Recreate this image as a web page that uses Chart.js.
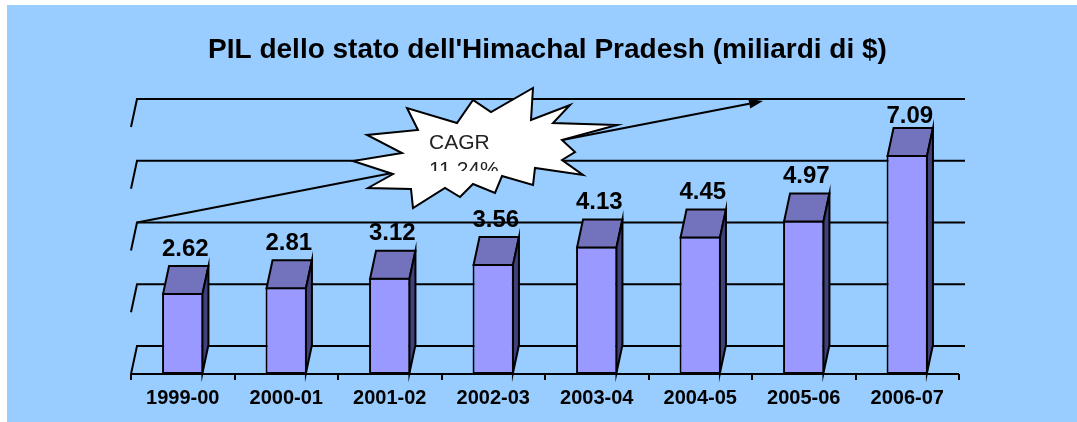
<!DOCTYPE html>
<html>
<head>
<meta charset="utf-8">
<script src="https://cdn.jsdelivr.net/npm/chart.js@4/dist/chart.umd.min.js"></script>
<style>
  html, body { margin: 0; padding: 0; background: #fff; }
  #wrap { width: 1077px; height: 422px; }
</style>
</head>
<body>
<div id="wrap"><canvas id="c" width="1077" height="422"></canvas></div>
<script>
// ---- data ----
const categories = ['1999-00', '2000-01', '2001-02', '2002-03', '2003-04', '2004-05', '2005-06', '2006-07'];
const gdpValues = [2.62, 2.81, 3.12, 3.56, 4.13, 4.45, 4.97, 7.09];
const valueLabels = ['2.62', '2.81', '3.12', '3.56', '4.13', '4.45', '4.97', '7.09'];
const gridValues = [0, 2, 4, 6, 8];
const titleText = "PIL dello stato dell'Himachal Pradesh (miliardi di $)";
const calloutLines = ['CAGR', '11.24%'];

// ---- styling / geometry (not data) ----
const FONT = '"Liberation Sans", Arial, Helvetica, sans-serif';
const DEPTH_X = 6, DEPTH_Y = -28;
const COL_BG = '#99CCFF', COL_FRONT = '#9999FF', COL_TOP = '#7373BD', COL_SIDE = '#40407A';
const ARROW_END = [763, 101];
const STAR = [
  [533,88],[531,120],[570,105],[553,123],[617,125],[562,140],[575,152],[562,160],
  [583,175],[535,168],[533,185],[502,176],[495,193],[473,184],[460,197],[445,188],
  [413,208],[411,189],[368,188],[393,174],[353,161],[402,153],[367,135],[418,130],
  [407,108],[457,123],[473,100],[491,112]
];

const deco = {
  id: 'deco',
  beforeDraw(chart) {
    const ctx = chart.ctx;
    ctx.save();
    ctx.fillStyle = '#ffffff';
    ctx.fillRect(0, 0, chart.width, chart.height);
    ctx.fillStyle = COL_BG;
    ctx.fillRect(7, 5, chart.width - 7, chart.height - 5);
    ctx.fillStyle = '#000';
    ctx.font = 'bold 28px ' + FONT;
    ctx.textAlign = 'center';
    ctx.textBaseline = 'alphabetic';
    ctx.fillText(titleText, 547.5, 58);
    ctx.restore();
  },
  beforeDatasetsDraw(chart) {
    const ctx = chart.ctx;
    const ys = chart.scales.y;
    const L = chart.chartArea.left, R = chart.chartArea.right;
    ctx.save();
    ctx.strokeStyle = '#000';
    ctx.lineWidth = 2;
    ctx.lineCap = 'butt';
    gridValues.forEach(v => {
      const yf = ys.getPixelForValue(v);
      const yb = yf + DEPTH_Y;
      ctx.beginPath();
      ctx.moveTo(L, yf);
      ctx.lineTo(L + DEPTH_X, yb);
      ctx.lineTo(R + DEPTH_X, yb);
      ctx.stroke();
    });
    // front floor edge + ticks
    const y0 = ys.getPixelForValue(0);
    ctx.beginPath();
    ctx.moveTo(L, y0);
    ctx.lineTo(R, y0);
    ctx.stroke();
    const step = (R - L) / categories.length;
    for (let i = 0; i <= categories.length; i++) {
      const x = Math.round(L + i * step);
      ctx.beginPath();
      ctx.moveTo(x, y0);
      ctx.lineTo(x, y0 + 6);
      ctx.stroke();
    }
    ctx.restore();
  },
  afterDatasetsDraw(chart) {
    const ctx = chart.ctx;
    const meta = chart.getDatasetMeta(0);
    ctx.save();
    ctx.strokeStyle = '#000';
    ctx.lineWidth = 2;
    ctx.lineJoin = 'miter';
    meta.data.forEach((bar, i) => {
      const l = bar.x - bar.width / 2 + 1, r = bar.x + bar.width / 2 - 1;
      const t = bar.y + 1, b = bar.base - 1;
      // top face
      ctx.beginPath();
      ctx.moveTo(l, t); ctx.lineTo(r, t);
      ctx.lineTo(r + DEPTH_X, t + DEPTH_Y); ctx.lineTo(l + DEPTH_X, t + DEPTH_Y);
      ctx.closePath();
      ctx.fillStyle = COL_TOP; ctx.fill(); ctx.stroke();
      // side face
      ctx.beginPath();
      ctx.moveTo(r, t); ctx.lineTo(r + DEPTH_X, t + DEPTH_Y);
      ctx.lineTo(r + DEPTH_X, b + DEPTH_Y); ctx.lineTo(r, b);
      ctx.closePath();
      ctx.fillStyle = COL_SIDE; ctx.fill(); ctx.stroke();
      // value label
      ctx.fillStyle = '#000';
      ctx.font = 'bold 24px ' + FONT;
      ctx.textAlign = 'center';
      ctx.textBaseline = 'alphabetic';
      const ly = Math.max(t + DEPTH_Y - 10.5, 123);
      ctx.fillText(valueLabels[i], bar.x + 2.5, ly);
    });
    ctx.restore();
  },
  afterDraw(chart) {
    const ctx = chart.ctx;
    const xs = chart.scales.x, ys = chart.scales.y;
    ctx.save();
    // category labels
    ctx.fillStyle = '#000';
    ctx.font = 'bold 20px ' + FONT;
    ctx.textAlign = 'center';
    ctx.textBaseline = 'alphabetic';
    categories.forEach((c, i) => {
      ctx.fillText(c, xs.getPixelForValue(i), ys.getPixelForValue(0) + 30);
    });
    // arrow
    const sx = chart.chartArea.left + DEPTH_X, sy = ys.getPixelForValue(4) + DEPTH_Y;
    const ex = ARROW_END[0], ey = ARROW_END[1];
    const ang = Math.atan2(ey - sy, ex - sx);
    const hl = 14, hw = 5;
    ctx.strokeStyle = '#000';
    ctx.lineWidth = 2;
    ctx.beginPath();
    ctx.moveTo(sx, sy);
    ctx.lineTo(ex - hl * Math.cos(ang), ey - hl * Math.sin(ang));
    ctx.stroke();
    ctx.beginPath();
    ctx.moveTo(ex, ey);
    ctx.lineTo(ex - hl * Math.cos(ang) + hw * Math.sin(ang), ey - hl * Math.sin(ang) - hw * Math.cos(ang));
    ctx.lineTo(ex - hl * Math.cos(ang) - hw * Math.sin(ang), ey - hl * Math.sin(ang) + hw * Math.cos(ang));
    ctx.closePath();
    ctx.fillStyle = '#000';
    ctx.fill();
    // starburst
    ctx.beginPath();
    STAR.forEach((p, i) => i ? ctx.lineTo(p[0], p[1]) : ctx.moveTo(p[0], p[1]));
    ctx.closePath();
    ctx.fillStyle = '#ffffff';
    ctx.fill();
    ctx.lineWidth = 2;
    ctx.lineJoin = 'miter';
    ctx.stroke();
    // callout text (clipped like the original text box)
    ctx.save();
    ctx.beginPath();
    ctx.rect(420, 120, 120, 51);
    ctx.clip();
    ctx.fillStyle = '#222';
    ctx.font = '21px ' + FONT;
    ctx.textAlign = 'left';
    ctx.fillText(calloutLines[0], 429, 148.5);
    ctx.fillText(calloutLines[1], 429, 175.5);
    ctx.restore();
    ctx.restore();
  }
};

new Chart(document.getElementById('c'), {
  type: 'bar',
  data: {
    labels: categories,
    datasets: [{
      data: gdpValues,
      backgroundColor: COL_FRONT,
      borderColor: '#000',
      borderWidth: 2,
      borderSkipped: false,
      categoryPercentage: 1.0,
      barPercentage: 0.4
    }]
  },
  options: {
    responsive: false,
    animation: false,
    devicePixelRatio: 1,
    layout: { padding: { left: 131, right: 118, top: 127, bottom: 48 } },
    plugins: { legend: { display: false }, title: { display: false }, tooltip: { enabled: false } },
    scales: {
      x: { display: false, offset: true },
      y: { display: false, min: 0, max: 8 }
    }
  },
  plugins: [deco]
});
</script>
</body>
</html>
